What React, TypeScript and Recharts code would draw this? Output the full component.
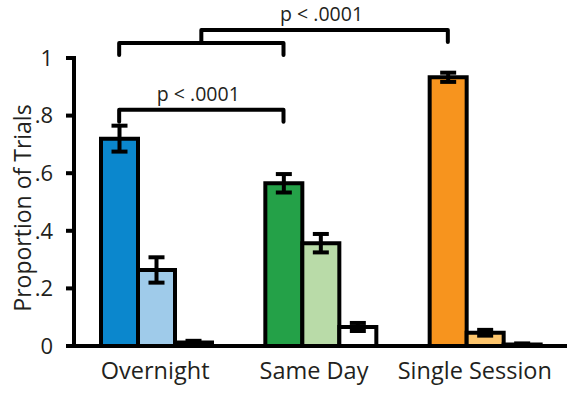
import React from 'react';
import { BarChart, Bar, XAxis, YAxis, Cell, ErrorBar, ReferenceLine } from 'recharts';

// Response proportions per training condition
const categories = ['Overnight', 'Same Day', 'Single Session'];
const firstValues = [0.72, 0.565, 0.933];
const firstErrors = [0.045, 0.032, 0.016];
const secondValues = [0.264, 0.357, 0.046];
const secondErrors = [0.044, 0.032, 0.01];
const thirdValues = [0.012, 0.066, 0.005];
const thirdErrors = [0.006, 0.014, 0.004];

const yTicks = [0, 0.2, 0.4, 0.6, 0.8, 1];
const yTickLabels = ['0', '.2', '.4', '.6', '.8', '1'];

// Fill colours per condition: [first, second, third]
const palettes = [
  ['#0b87cd', '#9fcbea', '#ffffff'],
  ['#24a148', '#b9dba8', '#ffffff'],
  ['#f7941e', '#fdc56c', '#ffffff'],
];

// Significance comparisons between the first bars of each condition
const lowerComparison = { left: ['Overnight'], right: ['Same Day'], y: 0.82, label: 'p < .0001' };
const groupBracket = { left: ['Overnight'], right: ['Same Day'], y: 1.052, label: '' };
const upperComparison = { left: ['Overnight', 'Same Day'], right: ['Single Session'], y: 1.097, label: 'p < .0001' };

const rows = categories.map((category, i) => ({
  category,
  first: firstValues[i],
  firstErr: firstErrors[i],
  second: secondValues[i],
  secondErr: secondErrors[i],
  third: thirdValues[i],
  thirdErr: thirdErrors[i],
}));

const FONT = "'Open Sans', sans-serif";
const TEXT = '#231f20';
const BAR_SIZE = 37;
const LINE = 4;
const labelNudge = [-1, -6.5, -10];

type BracketSpec = { left: string[]; right: string[]; y: number; label: string };

function makeBracket(spec: BracketSpec, leftLeg: number, rightLeg: number) {
  return (props: any) => {
    const x1 = Math.min(props.x1, props.x2);
    const x2 = Math.max(props.x1, props.x2);
    const y = props.y1;
    const band = (x2 - x1) / categories.length;
    // centre of the first bar inside a category band
    const firstBar = (name: string) => x1 + band * (categories.indexOf(name) + 0.5) - BAR_SIZE;
    const mean = (names: string[]) => names.reduce((s, n) => s + firstBar(n), 0) / names.length;
    const a = mean(spec.left);
    const b = mean(spec.right);
    return (
      <g>
        <path
          d={`M${a},${y + leftLeg} L${a},${y} L${b},${y} L${b},${y + rightLeg}`}
          fill="none"
          stroke="#000"
          strokeWidth={LINE}
          strokeLinejoin="round"
          strokeLinecap="round"
        />
        {spec.label ? (
          <text x={(a + b) / 2 - 3} y={y - 9} textAnchor="middle" fontFamily={FONT} fontSize={19.5} fill={TEXT}>
            {spec.label}
          </text>
        ) : null}
      </g>
    );
  };
}

const CategoryTick = (props: any) => {
  const idx = categories.indexOf(props.payload.value);
  return (
    <text
      x={props.x + (labelNudge[idx] ?? 0)}
      y={props.y + 33}
      textAnchor="middle"
      fontFamily={FONT}
      fontSize={23.5}
      fill={TEXT}
    >
      {props.payload.value}
    </text>
  );
};

const YLabel = (props: any) => {
  const vb = props.viewBox;
  const cx = 31;
  const cy = vb.y + vb.height / 2 + 6;
  return (
    <text
      x={cx}
      y={cy}
      transform={`rotate(-90, ${cx}, ${cy})`}
      textAnchor="middle"
      fontFamily={FONT}
      fontSize={23}
      fill={TEXT}
    >
      Proportion of Trials
    </text>
  );
};

const seriesKeys = ['first', 'second', 'third'];

export default function App() {
  return (
    <div style={{ position: 'absolute', left: 0, top: 0, background: '#fff' }}>
      <BarChart
        width={567}
        height={396}
        data={rows}
        margin={{ top: 58, right: 0, bottom: 0, left: 0 }}
        barGap={0}
        barSize={BAR_SIZE}
      >
        <XAxis
          dataKey="category"
          height={50}
          interval={0}
          tickLine={false}
          tickSize={0}
          tickMargin={0}
          axisLine={{ stroke: '#000', strokeWidth: LINE, strokeLinecap: 'square' }}
          tick={(p: any) => <CategoryTick {...p} />}
        />
        <YAxis
          width={74}
          domain={[0, 1]}
          allowDataOverflow
          ticks={yTicks}
          interval={0}
          tickSize={8}
          tickMargin={13}
          tickFormatter={(v: number) => yTickLabels[yTicks.indexOf(v)] ?? String(v)}
          tickLine={{ stroke: '#000', strokeWidth: LINE }}
          axisLine={{ stroke: '#000', strokeWidth: LINE, strokeLinecap: 'square' }}
          tick={{ fill: TEXT, fontSize: 22, fontFamily: FONT }}
          label={(p: any) => <YLabel {...p} />}
        />
        {seriesKeys.map((key, s) => (
          <Bar key={key} dataKey={key} stroke="#000" strokeWidth={LINE} isAnimationActive={false}>
            {rows.map((row, i) => (
              <Cell key={row.category} fill={palettes[i][s]} />
            ))}
            <ErrorBar
              dataKey={`${key}Err`}
              width={8}
              stroke="#000"
              strokeWidth={LINE}
              direction="y"
              isAnimationActive={false}
            />
          </Bar>
        ))}
        <ReferenceLine y={lowerComparison.y} ifOverflow="visible" shape={makeBracket(lowerComparison, 12, 12)} />
        <ReferenceLine y={groupBracket.y} ifOverflow="visible" shape={makeBracket(groupBracket, 12, 12)} />
        <ReferenceLine y={upperComparison.y} ifOverflow="visible" shape={makeBracket(upperComparison, 13, 12)} />
      </BarChart>
    </div>
  );
}
